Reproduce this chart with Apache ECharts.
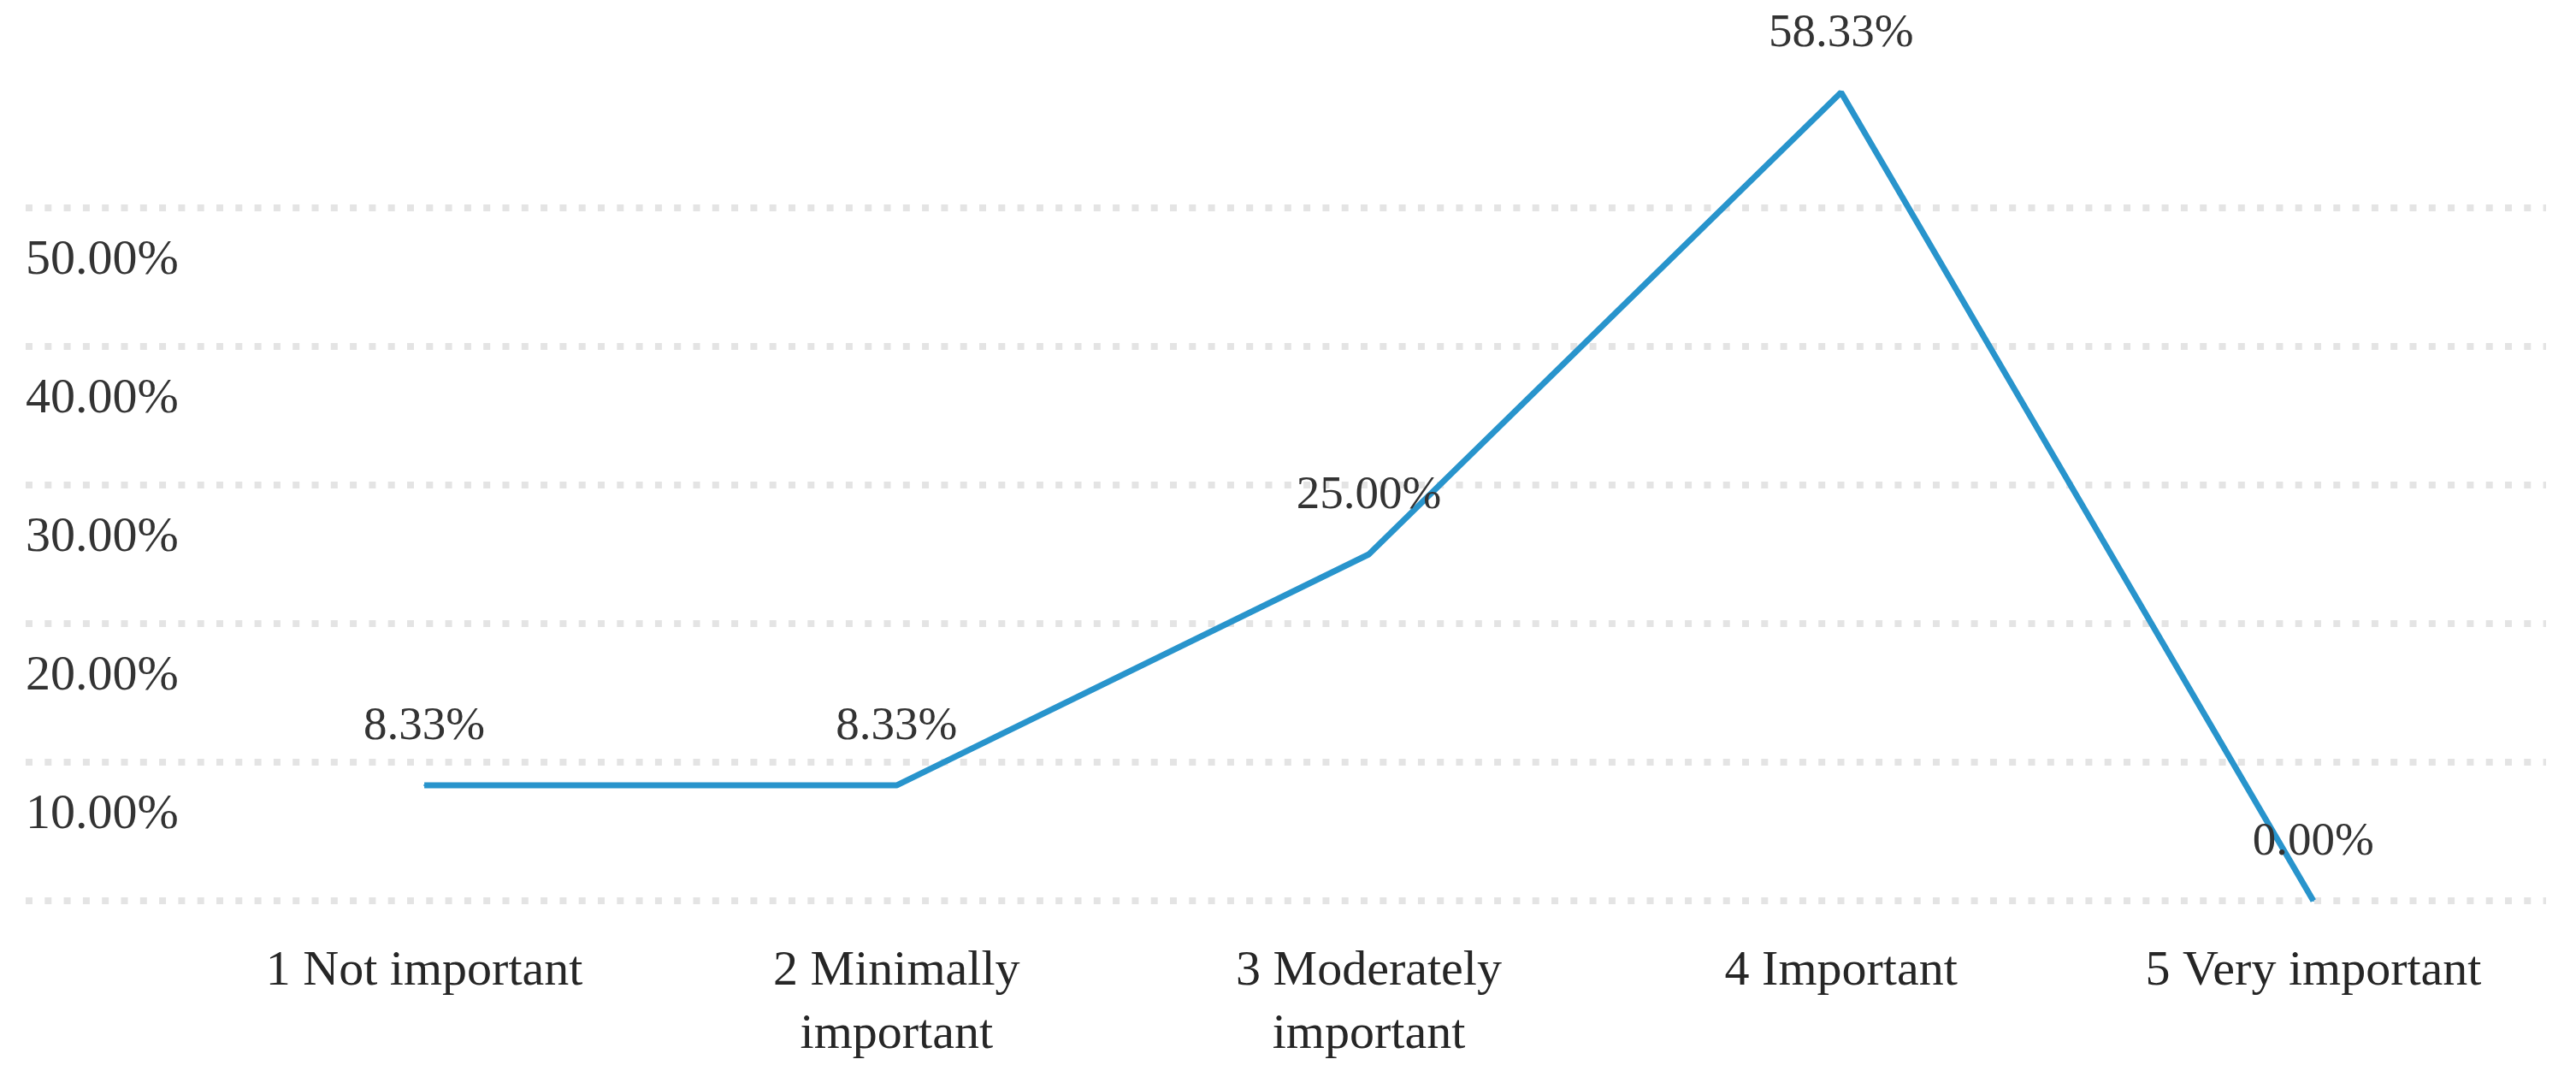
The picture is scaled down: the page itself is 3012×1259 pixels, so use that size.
<!DOCTYPE html>
<html>
<head>
<meta charset="utf-8">
<script src="https://cdn.jsdelivr.net/npm/echarts@6/dist/echarts.min.js"></script>
<style>
html,body{margin:0;padding:0;background:#fff;}
#chart{width:3012px;height:1259px;}
</style>
</head>
<body>
<div id="chart"></div>
<script>
var categories = ['1 Not important', '2 Minimally important', '3 Moderately important', '4 Important', '5 Very important'];
var values = [8.33, 8.33, 25.00, 58.33, 0.00];
var yTicks = [0, 10, 20, 30, 40, 50];

var FONT = "'Liberation Serif', 'Times New Roman', serif";
var chart = echarts.init(document.getElementById('chart'), null, {renderer: 'canvas'});

var option = {
  backgroundColor: '#ffffff',
  animation: false,
  grid: [
    {left: 30, right: 35, top: 243, bottom: 206},
    {left: 220, right: 31, top: 81, bottom: 206}
  ],
  xAxis: [
    {gridIndex: 0, type: 'value', show: false, min: 0, max: 1},
    {
      gridIndex: 1, type: 'category', data: categories, boundaryGap: true,
      axisLine: {show: false}, axisTick: {show: false}, splitLine: {show: false},
      axisLabel: {
        interval: 0, margin: 46, color: '#262626', fontFamily: FONT, fontSize: 58, lineHeight: 74,
        verticalAlign: 'top',
        formatter: function (v) {
          if (v.length > 18) { var i = v.lastIndexOf(' '); return v.slice(0, i) + '\n' + v.slice(i + 1); }
          return v;
        }
      }
    }
  ],
  yAxis: [
    {
      gridIndex: 0, type: 'value', min: yTicks[0], max: yTicks[yTicks.length - 1], interval: 10,
      axisLine: {show: false}, axisTick: {show: false},
      splitLine: {show: true, lineStyle: {color: '#e4e4e4', width: 8, type: [8, 14.3]}},
      axisLabel: {
        inside: true, margin: 0, showMinLabel: false, align: 'left', verticalAlign: 'top', lineHeight: 124,
        color: '#333333', fontFamily: FONT, fontSize: 58,
        formatter: function (v) { return v.toFixed(2) + '%'; }
      }
    },
    {gridIndex: 1, type: 'value', min: 0, max: 60, show: false}
  ],
  series: [
    {
      type: 'line', xAxisIndex: 1, yAxisIndex: 1, data: values,
      symbol: 'circle', symbolSize: 2, showSymbol: true,
      lineStyle: {color: '#2894cc', width: 7},
      itemStyle: {color: '#2894cc'},
      label: {
        show: true, position: 'top', distance: 40,
        color: '#333333', fontFamily: FONT, fontSize: 55, lineHeight: 55,
        formatter: function (p) { return p.value.toFixed(2) + '%'; }
      },
      z: 3
    }
  ]
};
chart.setOption(option);
</script>
</body>
</html>
